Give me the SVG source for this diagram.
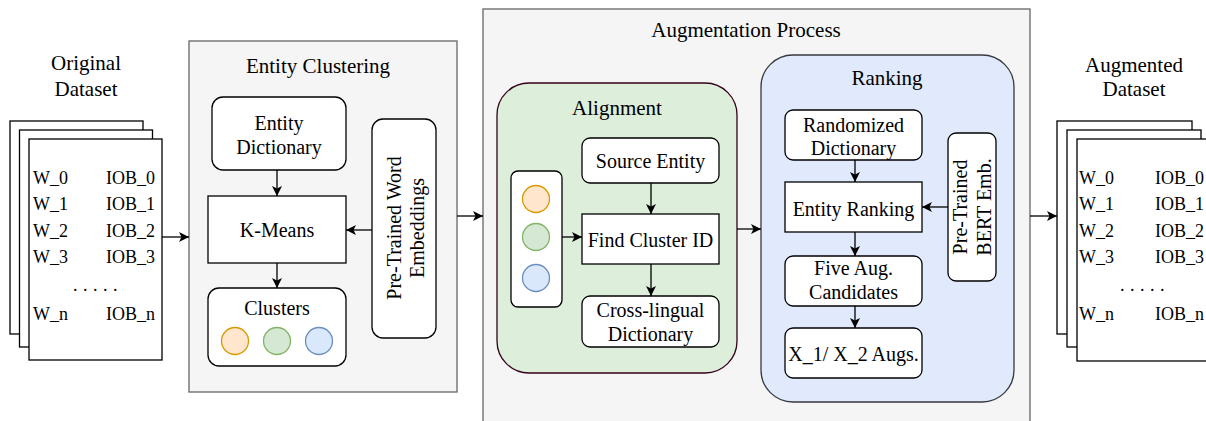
<svg xmlns="http://www.w3.org/2000/svg" width="1206" height="421" viewBox="0 0 1206 421">
<defs>
<marker id="ah" viewBox="0 0 10 10" refX="10" refY="5" markerWidth="10" markerHeight="10" markerUnits="userSpaceOnUse" orient="auto">
<path d="M0,0 L10,5 L0,10 L2.5,5 Z" fill="#000"/>
</marker>
<style>
text{font-family:"Liberation Serif","Times New Roman",serif;fill:#000;}
.t{font-size:21px;text-anchor:middle;}
.n{font-size:20px;text-anchor:middle;}
.d{font-size:18px;}
.box{fill:#fff;stroke:#000;stroke-width:1.3;}
.page{fill:#fff;stroke:#000;stroke-width:1.3;}
.grp{fill:#f5f5f5;stroke:#666;stroke-width:1.3;}
.c{stroke:#000;stroke-width:1.3;fill:none;marker-end:url(#ah);}
.co{fill:#ffe6cc;stroke:#d79b00;stroke-width:1.3;}
.cg{fill:#d5e8d4;stroke:#82b366;stroke-width:1.3;}
.cb{fill:#dae8fc;stroke:#6c8ebf;stroke-width:1.3;}
</style>
</defs>
<rect width="1206" height="421" fill="#fff"/>

<g id="original-dataset">
<text class="t" x="86" y="70">Original</text>
<text class="t" x="86" y="96">Dataset</text>
<rect class="page" x="10" y="121" width="133" height="213"/>
<rect class="page" x="19.5" y="130" width="133" height="217"/>
<rect class="page" x="29" y="139" width="133" height="221"/>
<text class="d" x="33" y="184">W_0</text><text class="d" x="106" y="184">IOB_0</text>
<text class="d" x="33" y="210">W_1</text><text class="d" x="106" y="210">IOB_1</text>
<text class="d" x="33" y="237">W_2</text><text class="d" x="106" y="237">IOB_2</text>
<text class="d" x="33" y="263">W_3</text><text class="d" x="106" y="263">IOB_3</text>
<text class="d" x="73" y="291" letter-spacing="5.5">.....</text>
<text class="d" x="33" y="320">W_n</text><text class="d" x="106" y="320">IOB_n</text>
</g>

<g id="entity-clustering">
<rect class="grp" x="189" y="41" width="268" height="351"/>
<text class="t" x="318" y="73">Entity Clustering</text>
</g>
<g id="entity-dictionary">
<rect class="box" x="212" y="97" width="134" height="73" rx="11"/>
<text class="n" x="279" y="130">Entity</text>
<text class="n" x="279" y="154">Dictionary</text>
</g>
<g id="k-means">
<rect class="box" x="208" y="196" width="138" height="67"/>
<text class="n" x="277" y="237">K-Means</text>
</g>
<g id="clusters">
<rect class="box" x="208" y="288" width="138" height="78" rx="11"/>
<text class="n" x="277" y="315">Clusters</text>
<circle class="co" cx="235" cy="341" r="13.5"/>
<circle class="cg" cx="277" cy="341" r="13.5"/>
<circle class="cb" cx="319" cy="341" r="13.5"/>
</g>
<g id="pretrained-word-embeddings">
<rect class="box" x="372" y="119" width="64" height="219" rx="11"/>
<text class="n" transform="translate(404,228) rotate(-90)"><tspan x="0" y="-3">Pre-Trained Word</tspan><tspan x="0" y="20">Embeddings</tspan></text>
</g>

<g id="augmentation-process">
<rect class="grp" x="483" y="9" width="547" height="420"/>
<text class="t" x="746" y="37">Augmentation Process</text>
</g>
<g id="alignment">
<rect x="497" y="83" width="240" height="290" rx="32" fill="#ddeedb" stroke="#33001a" stroke-width="1.3"/>
<text class="t" x="617" y="115">Alignment</text>
</g>
<g id="cluster-panel">
<rect class="box" x="511" y="171" width="51" height="136" rx="7"/>
<circle class="co" cx="536" cy="199" r="13.5"/>
<circle class="cg" cx="536" cy="237" r="13.5"/>
<circle class="cb" cx="536" cy="278" r="13.5"/>
</g>
<g id="source-entity">
<rect class="box" x="582" y="138" width="137" height="45" rx="8"/>
<text class="n" x="650.5" y="168">Source Entity</text>
</g>
<g id="find-cluster-id">
<rect class="box" x="582" y="214" width="137" height="50"/>
<text class="n" x="650.5" y="247">Find Cluster ID</text>
</g>
<g id="cross-lingual-dictionary">
<rect class="box" x="582" y="296" width="137" height="51" rx="8"/>
<text class="n" x="650.5" y="317">Cross-lingual</text>
<text class="n" x="650.5" y="341">Dictionary</text>
</g>

<g id="ranking">
<rect x="761" y="55" width="253" height="347" rx="32" fill="#e0eafc" stroke="#36393d" stroke-width="1.3"/>
<text class="t" x="887" y="85">Ranking</text>
</g>
<g id="randomized-dictionary">
<rect class="box" x="785" y="110" width="137" height="50" rx="8"/>
<text class="n" x="853.5" y="132">Randomized</text>
<text class="n" x="853.5" y="155">Dictionary</text>
</g>
<g id="entity-ranking">
<rect class="box" x="785" y="182" width="137" height="50"/>
<text class="n" x="853.5" y="216">Entity Ranking</text>
</g>
<g id="five-aug-candidates">
<rect class="box" x="785" y="256" width="137" height="50" rx="8"/>
<text class="n" x="853.5" y="275">Five Aug.</text>
<text class="n" x="853.5" y="299">Candidates</text>
</g>
<g id="x-augs">
<rect class="box" x="785" y="328" width="137" height="50" rx="8"/>
<text class="n" x="853.5" y="361">X_1/ X_2 Augs.</text>
</g>
<g id="pretrained-bert">
<rect class="box" x="948" y="133" width="48" height="148" rx="8"/>
<text class="n" transform="translate(972,207) rotate(-90)"><tspan x="0" y="-5">Pre-Trained</tspan><tspan x="0" y="19">BERT Emb.</tspan></text>
</g>

<g id="augmented-dataset">
<text class="t" x="1134" y="72">Augmented</text>
<text class="t" x="1134" y="96">Dataset</text>
<rect class="page" x="1057" y="121" width="135" height="213"/>
<rect class="page" x="1067" y="130" width="134" height="217"/>
<rect class="page" x="1077" y="139" width="140" height="222"/>
<text class="d" x="1079" y="184">W_0</text><text class="d" x="1155" y="184">IOB_0</text>
<text class="d" x="1079" y="210">W_1</text><text class="d" x="1155" y="210">IOB_1</text>
<text class="d" x="1079" y="237">W_2</text><text class="d" x="1155" y="237">IOB_2</text>
<text class="d" x="1079" y="263">W_3</text><text class="d" x="1155" y="263">IOB_3</text>
<text class="d" x="1120" y="291" letter-spacing="5.5">.....</text>
<text class="d" x="1079" y="320">W_n</text><text class="d" x="1155" y="320">IOB_n</text>
</g>

<g id="connectors">
<path class="c" d="M162,237 L189,237"/>
<path class="c" d="M277,170 L277,196"/>
<path class="c" d="M372,230 L346,230"/>
<path class="c" d="M277,263 L277,288"/>
<path class="c" d="M457,216 L483,216"/>
<path class="c" d="M562,237 L582,237"/>
<path class="c" d="M651,183 L651,214"/>
<path class="c" d="M651,264 L651,296"/>
<path class="c" d="M737,229 L761,229"/>
<path class="c" d="M855,160 L855,182"/>
<path class="c" d="M948,207 L922,207"/>
<path class="c" d="M855,232 L855,256"/>
<path class="c" d="M855,306 L855,328"/>
<path class="c" d="M1030,216 L1057,216"/>
</g>
</svg>
